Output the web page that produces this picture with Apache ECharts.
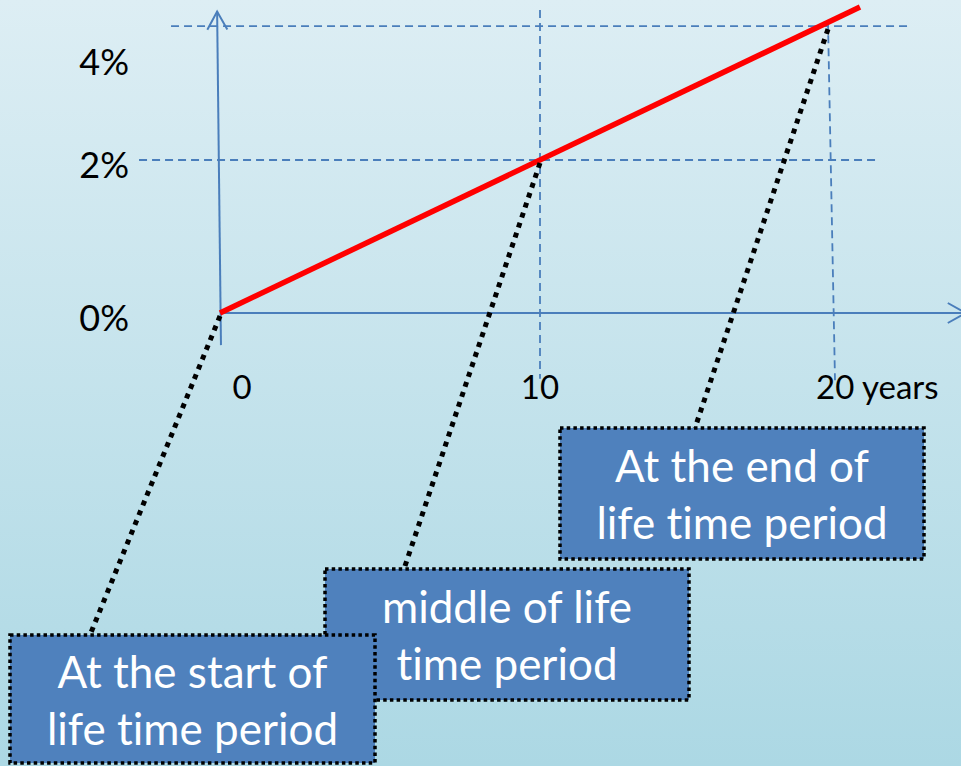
<!DOCTYPE html>
<html><head><meta charset="utf-8">
<script src="https://cdn.jsdelivr.net/npm/echarts@6/dist/echarts.min.js"></script>
<style>
html,body{margin:0;padding:0;width:961px;height:766px;overflow:hidden;}
#chart{width:961px;height:766px;background:linear-gradient(to bottom,#ddeef4 0%,#acd8e4 100%);}
#chart text{font-variant-ligatures:none;font-feature-settings:"liga" 0,"clig" 0;}
</style></head><body><div id="chart"></div>
<script>
// ---------- data (years on x, % on y) ----------
const redLineYears = [0, 20];
const redLineRates = [0, 4];
const guideYears = [10, 19];
const guideRates = [2, 3.75];
const yTickLabels = ['0%', '2%', '4%'];
const yTickAnchors = [-0.05, 1.95, 3.30];
const xTickLabels = ['0', '10', '20 years'];
const xTickAnchors = [0, 10, 19];
const calloutTexts = ['At the start of\nlife time period', 'middle of life\ntime period', 'At the end of\nlife time period'];
const calloutYears = [0, 10, 19];
const calloutRates = [0, 2, 3.75];

// ---------- layout / style ----------
const W = 961, H = 766;
const PX_PER_YEAR = 32, ORIGIN_X = 220, PX_PER_RATE = 76.5, ORIGIN_Y = 313;
const X_MIN = -ORIGIN_X / PX_PER_YEAR, X_MAX = (W - ORIGIN_X) / PX_PER_YEAR;
const Y_MIN = -(H - ORIGIN_Y) / PX_PER_RATE, Y_MAX = ORIGIN_Y / PX_PER_RATE;
const AXIS_BLUE = '#4a7ebb';
const FONT = 'Lato, "Open Sans", sans-serif';
const axisSegments = [
  { from: [0, 0], to: [X_MAX + 0.15, 0] },
  { from: [0.03, -0.42], to: [-0.09, 3.94] }
];
const guideLayout = [
  { h: [-2.53, 20.47], v: [-0.86, 3.96], tilt: 0 },
  { h: [-1.53, 21.47], v: [-0.88, 3.80], tilt: 7 }
];
const xTickStyle = [
  { dx: 22, align: 'center' },
  { dx: 0, align: 'center' },
  { dx: -12, align: 'left' }
];
const boxLayout = [
  { x: 10, y: 635, w: 365, h: 128, ax: 90 },
  { x: 325, y: 569, w: 364, h: 131, ax: 404 },
  { x: 560, y: 428, w: 364, h: 131, ax: 695 }
];

const chart = echarts.init(document.getElementById('chart'), null, { renderer: 'svg' });

function axisItem(params, api) {
  const seg = axisSegments[params.dataIndex];
  const a = api.coord(seg.from), b = api.coord(seg.to);
  const dx = b[0] - a[0], dy = b[1] - a[1];
  const len = Math.sqrt(dx * dx + dy * dy);
  const ux = dx / len, uy = dy / len, nx = -uy, ny = ux;
  const back = 18, side = 10;
  return {
    type: 'group',
    children: [
      { type: 'line', shape: { x1: a[0], y1: a[1], x2: b[0], y2: b[1] },
        style: { stroke: AXIS_BLUE, lineWidth: 2 } },
      { type: 'polyline', shape: { points: [
          [b[0] - back * ux + side * nx, b[1] - back * uy + side * ny],
          [b[0], b[1]],
          [b[0] - back * ux - side * nx, b[1] - back * uy - side * ny]] },
        style: { stroke: AXIS_BLUE, lineWidth: 2, fill: null } }
    ]
  };
}

function guideItem(params, api) {
  const i = params.dataIndex;
  const yr = api.value(0), rt = api.value(1);
  const g = guideLayout[i];
  const h1 = api.coord([g.h[0], rt]), h2 = api.coord([g.h[1], rt]);
  const vTop = api.coord([yr, g.v[1]]), vBot = api.coord([yr, g.v[0]]);
  const st = { stroke: AXIS_BLUE, lineWidth: 1.8, lineDash: [8, 5] };
  return {
    type: 'group',
    children: [
      { type: 'line', shape: { x1: h1[0], y1: h1[1], x2: h2[0], y2: h2[1] }, style: st },
      { type: 'line', shape: { x1: vTop[0], y1: vTop[1], x2: vBot[0] + g.tilt, y2: vBot[1] }, style: st }
    ]
  };
}

function yLabelItem(params, api) {
  const p = api.coord([0, api.value(1)]);
  return { type: 'text', style: { text: yTickLabels[params.dataIndex], x: p[0] - 91, y: p[1],
    align: 'right', verticalAlign: 'middle', fill: '#000', fontSize: 36, fontFamily: FONT } };
}

function xLabelItem(params, api) {
  const s = xTickStyle[params.dataIndex];
  const p = api.coord([api.value(0), 0]);
  return { type: 'text', style: { text: xTickLabels[params.dataIndex], x: p[0] + s.dx, y: p[1] + 73,
    align: s.align, verticalAlign: 'middle', fill: '#000', fontSize: 33, fontFamily: FONT } };
}

function calloutItem(params, api) {
  const i = params.dataIndex;
  const p = api.coord([api.value(0), api.value(1)]);
  const b = boxLayout[i];
  const z = (3 - i) * 10;
  return {
    type: 'group',
    children: [
      { type: 'line', z2: z, shape: { x1: p[0], y1: p[1] + 3, x2: b.ax, y2: b.y },
        style: { stroke: '#000', lineWidth: 5, lineDash: [5, 5.5] } },
      { type: 'rect', z2: z + 1, shape: { x: b.x, y: b.y, width: b.w, height: b.h },
        style: { fill: '#4f81bd', stroke: '#000', lineWidth: 3.5, lineDash: [3.5, 3.2] } },
      { type: 'text', z2: z + 2, style: { text: calloutTexts[i], x: b.x + b.w / 2, y: b.y + b.h / 2,
        align: 'center', verticalAlign: 'middle', fill: '#fff', fontSize: 44, lineHeight: 57, fontFamily: FONT } }
    ]
  };
}

chart.setOption({
  animation: false,
  backgroundColor: 'transparent',
  grid: { left: 0, right: 0, top: 0, bottom: 0, containLabel: false },
  xAxis: { type: 'value', min: X_MIN, max: X_MAX, show: false, splitLine: { show: false } },
  yAxis: { type: 'value', min: Y_MIN, max: Y_MAX, show: false, splitLine: { show: false } },
  series: [
    { type: 'custom', name: 'guides', renderItem: guideItem, z: 1,
      data: guideYears.map((y, i) => [y, guideRates[i]]) },
    { type: 'custom', name: 'axes', renderItem: axisItem, z: 2,
      data: axisSegments.map((s) => s.from.concat(s.to)) },
    { type: 'line', name: 'rate', z: 3, symbol: 'none', silent: true,
      lineStyle: { color: '#ff0000', width: 5.5 },
      data: redLineYears.map((y, i) => [y, redLineRates[i]]) },
    { type: 'custom', name: 'yLabels', renderItem: yLabelItem, z: 4,
      data: yTickAnchors.map((v) => [0, v]) },
    { type: 'custom', name: 'xLabels', renderItem: xLabelItem, z: 4,
      data: xTickAnchors.map((v) => [v, 0]) },
    { type: 'custom', name: 'callouts', renderItem: calloutItem, z: 5,
      data: calloutYears.map((y, i) => [y, calloutRates[i]]) }
  ]
});
</script></body></html>
